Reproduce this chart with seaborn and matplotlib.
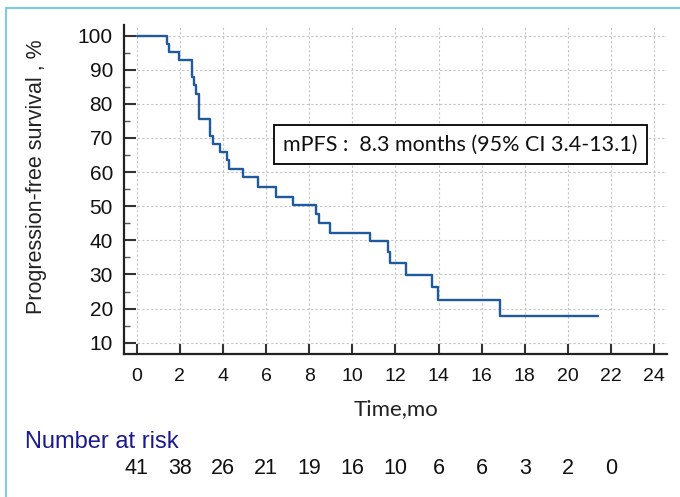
import matplotlib
matplotlib.use("Agg")
import matplotlib.pyplot as plt
from matplotlib.lines import Line2D
from matplotlib.ticker import MultipleLocator
import seaborn as sns
import pandas as pd

# ---- data ----
time_mo = [0, 1.42, 1.49, 1.94, 2.58, 2.64, 2.76, 2.87, 2.91, 3.41, 3.56, 3.87,
           4.18, 4.30, 4.95, 5.61, 6.46, 7.23, 8.34, 8.46, 8.96, 10.82, 11.66,
           11.75, 12.47, 13.68, 13.97, 16.85, 21.38]
pfs_pct = [100, 97.6, 95.1, 92.7, 87.8, 85.4, 82.9, 78.0, 75.6, 70.7, 68.3, 65.9,
           63.4, 61.0, 58.5, 55.6, 52.8, 50.3, 47.7, 45.0, 42.3, 39.8, 36.7,
           33.5, 29.8, 26.2, 22.5, 17.9, 17.9]
risk_times = [0, 2, 4, 6, 8, 10, 12, 14, 16, 18, 20, 22]
at_risk = [41, 38, 26, 21, 19, 16, 10, 6, 6, 3, 2, 0]
x_ticks = list(range(0, 25, 2))
y_ticks = list(range(10, 101, 10))
annotation = "mPFS :  8.3 months (95% CI 3.4-13.1)"

sns.set_theme(style="white")
plt.rcParams['font.family'] = ['Liberation Sans', 'DejaVu Sans']

df = pd.DataFrame({"t": time_mo, "s": pfs_pct})

W, H = 680, 497
fig = plt.figure(figsize=(W/100, H/100), dpi=100)
ax = fig.add_axes([124/W, 1-354/H, (667-124)/W, (354-25)/H])

sns.lineplot(data=df, x="t", y="s", ax=ax, drawstyle="steps-post",
             color="#1f5a9e", linewidth=1.7, zorder=3)

ax.set_xlim(-0.59, 24.6)
ax.set_ylim(6.7, 103.1)
ax.set_xticks(x_ticks)
ax.set_yticks(y_ticks)
ax.yaxis.set_minor_locator(MultipleLocator(5))

ax.grid(True, which="major", color="#c4c4c4", linestyle=(0, (2, 2)), linewidth=0.8)
ax.set_axisbelow(True)

for s in ["top", "right"]:
    ax.spines[s].set_visible(False)
for s in ["left", "bottom"]:
    ax.spines[s].set_color("#222222")
    ax.spines[s].set_linewidth(1.6)

ax.tick_params(axis="y", which="major", direction="in", length=8.5, width=1.5,
               color="#333333", labelsize=15, pad=8, left=True, labelcolor="#111111")
ax.tick_params(axis="y", which="minor", direction="in", length=4, width=1.0,
               color="#555555", left=True)
ax.tick_params(axis="x", which="major", direction="in", length=7, width=1.5,
               color="#333333", labelsize=14, pad=10, bottom=True, labelcolor="#111111")

ax.set_xlabel("Time,mo", fontsize=16, family=["Lato", "DejaVu Sans"], color="#222222")
ax.xaxis.set_label_coords(0.5, -(409-354)/(354-25), transform=ax.transAxes)
ax.xaxis.label.set_va("center")
ax.set_ylabel("Progression-free survival , %", fontsize=15.5, color="#222222")
ax.yaxis.set_label_coords((37-124)/(667-124), (354-177)/(354-25), transform=ax.transAxes)
ax.yaxis.label.set_va("center")

ax.text(460.5/W, 1-144.5/H, annotation, transform=fig.transFigure,
        ha="center", va="center", fontsize=15.5, family=["Lato", "DejaVu Sans"],
        color="#111111",
        bbox=dict(boxstyle="square,pad=0.42", facecolor="white",
                  edgecolor="black", linewidth=1.3), zorder=5)

fig.text(25/W, 1-442/H, "Number at risk", color="#1a1a8f",
         fontsize=17, ha="left", va="center")
for t, n in zip(risk_times, at_risk):
    x_disp = ax.transData.transform((t, 0))[0]
    fig.text(x_disp/W, 1-468/H, str(n), ha="center", va="center",
             fontsize=15.5, color="#111111")

# light blue frame lines
fig.add_artist(Line2D([6/W, 6/W], [0, 1-8/H], transform=fig.transFigure,
                      color="#7fcbe6", linewidth=1.5))
fig.add_artist(Line2D([6/W, 1], [1-8/H, 1-8/H], transform=fig.transFigure,
                      color="#7fcbe6", linewidth=1.5))

fig.savefig("out.png", dpi=100)
